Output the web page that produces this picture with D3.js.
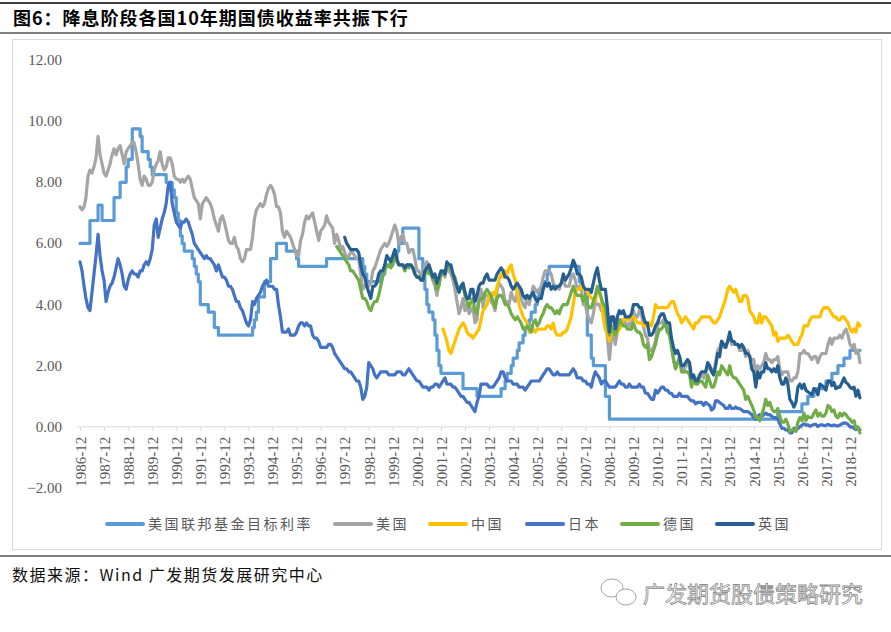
<!DOCTYPE html>
<html>
<head>
<meta charset="utf-8">
<script src="https://cdn.jsdelivr.net/npm/d3@7"></script>
<style>
body { margin: 0; background: #fff; }
svg { display: block; }
</style>
</head>
<body>
<svg id="chart" width="891" height="632"></svg>
<script>

// 月度数据，起始月份 + 逐月数值
var usStart = "1986-12";
var us10y = [7.2,
	7.1, 7.2, 7.5, 8.2, 8.4, 8.3, 8.5, 8.8, 9.5, 8.9, 8.6, 8.3,
	8.2, 8.4, 8.6, 8.9, 9.1, 8.9, 9.1, 9.2, 8.9, 8.6, 9.0, 9.1,
	9.2, 9.3, 9.3, 9.0, 8.6, 8.1, 7.9, 8.2, 8.1, 7.9, 7.9, 8.0,
	8.4, 8.6, 8.7, 9.0, 8.6, 8.4, 8.5, 8.8, 8.8, 8.6, 8.2, 8.1,
	8.1, 8.0, 8.1, 8.0, 8.1, 8.2, 8.1, 7.8, 7.5, 7.4, 7.3, 6.8,
	7.3, 7.4, 7.5, 7.4, 7.3, 7.1, 6.8, 6.6, 6.4, 6.8, 6.9, 6.7,
	6.4, 6.1, 6.0, 6.0, 6.2, 5.9, 5.8, 5.5, 5.4, 5.5, 5.8, 5.8,
	5.8, 6.2, 6.8, 7.1, 7.2, 7.3, 7.2, 7.3, 7.6, 7.8, 7.9, 7.8,
	7.6, 7.2, 7.2, 7.0, 6.4, 6.2, 6.4, 6.3, 6.2, 6.0, 5.8, 5.6,
	5.6, 6.1, 6.3, 6.7, 6.9, 6.8, 6.9, 7.0, 6.7, 6.4, 6.1, 6.4,
	6.5, 6.6, 6.9, 6.7, 6.6, 6.5, 6.0, 6.3, 6.1, 5.8, 5.9, 5.7,
	5.5, 5.6, 5.7, 5.7, 5.6, 5.5, 5.5, 5.0, 4.5, 4.6, 4.7, 4.6,
	4.7, 5.1, 5.2, 5.4, 5.6, 5.8, 5.9, 6.0, 5.9, 6.0, 6.2, 6.4,
	6.6, 6.4, 6.0, 6.2, 6.3, 6.0, 6.0, 5.7, 5.8, 5.8, 5.5, 5.1,
	5.1, 4.9, 4.9, 5.3, 5.4, 5.3, 5.1, 4.8, 4.6, 4.3, 4.7, 5.0,
	5.0, 4.9, 5.3, 5.1, 5.0, 4.8, 4.5, 4.1, 3.7, 3.9, 4.2, 3.8,
	4.0, 3.7, 3.8, 3.9, 3.4, 3.5, 4.4, 4.5, 3.9, 4.3, 4.3, 4.3,
	4.1, 4.0, 3.8, 4.5, 4.7, 4.6, 4.5, 4.1, 4.1, 4.0, 4.4, 4.2,
	4.1, 4.4, 4.5, 4.2, 4.0, 3.9, 4.3, 4.0, 4.3, 4.6, 4.5, 4.4,
	4.5, 4.6, 4.9, 5.1, 5.1, 5.1, 5.0, 4.7, 4.6, 4.6, 4.5, 4.7,
	4.8, 4.6, 4.6, 4.6, 4.9, 5.0, 4.8, 4.5, 4.6, 4.5, 4.0, 4.0,
	3.7, 3.5, 3.4, 3.7, 4.1, 4.0, 4.0, 3.8, 3.8, 4.0, 2.9, 2.2,
	2.9, 3.0, 2.7, 3.1, 3.5, 3.5, 3.5, 3.4, 3.3, 3.4, 3.2, 3.8,
	3.6, 3.6, 3.8, 3.7, 3.3, 3.0, 2.9, 2.5, 2.5, 2.6, 2.8, 3.3,
	3.4, 3.4, 3.5, 3.3, 3.1, 3.2, 2.8, 2.2, 1.9, 2.1, 2.1, 1.9,
	1.8, 2.0, 2.2, 1.9, 1.6, 1.6, 1.5, 1.6, 1.6, 1.7, 1.6, 1.8,
	2.0, 1.9, 1.9, 1.7, 2.1, 2.5, 2.6, 2.8, 2.6, 2.6, 2.8, 3.0,
	2.7, 2.7, 2.7, 2.7, 2.5, 2.5, 2.6, 2.3, 2.5, 2.3, 2.2, 2.2,
	1.7, 2.0, 1.9, 2.0, 2.1, 2.4, 2.2, 2.2, 2.1, 2.2, 2.2, 2.3,
	1.9, 1.7, 1.8, 1.8, 1.8, 1.5, 1.5, 1.6, 1.6, 1.8, 2.4, 2.4,
	2.5, 2.4, 2.4, 2.3, 2.2, 2.3, 2.3, 2.1, 2.3, 2.4, 2.4, 2.4,
	2.7, 2.9, 2.7, 2.9, 2.9, 2.9, 3.0, 2.9, 3.1, 3.2, 3.0, 2.7,
	2.6, 2.7, 2.4, 2.5, 2.1];

var jpStart = "1986-12";
var jp10y = [5.4,
	5.1, 4.6, 4.2, 3.9, 3.8, 4.4, 5.0, 5.6, 6.3, 5.6, 5.1, 4.8,
	4.1, 4.4, 4.6, 4.7, 4.9, 5.2, 5.5, 5.3, 5.0, 4.6, 4.5, 4.8,
	5.0, 5.1, 5.0, 5.0, 4.9, 5.1, 5.1, 5.3, 5.4, 5.3, 5.5, 5.8,
	6.6, 6.8, 6.2, 6.5, 6.8, 7.0, 7.3, 7.9, 8.0, 7.3, 7.0, 6.7,
	6.6, 6.5, 6.7, 6.7, 6.8, 6.7, 6.5, 6.3, 6.0, 5.9, 5.8, 5.7,
	5.6, 5.5, 5.6, 5.5, 5.5, 5.4, 5.3, 5.1, 5.3, 5.1, 4.9, 4.9,
	4.8, 4.6, 4.6, 4.5, 4.3, 4.1, 4.1, 3.9, 3.8, 3.6, 3.4, 3.3,
	3.5, 4.1, 4.0, 4.2, 4.3, 4.4, 4.6, 4.7, 4.8, 4.6, 4.6, 4.6,
	4.5, 4.5, 4.0, 3.6, 3.1, 3.1, 3.1, 3.2, 3.0, 3.0, 3.0, 3.1,
	3.3, 3.4, 3.4, 3.3, 3.4, 3.3, 3.3, 3.0, 2.9, 2.9, 2.8, 2.6,
	2.6, 2.6, 2.6, 2.7, 2.7, 2.6, 2.4, 2.3, 2.2, 2.1, 2.0, 1.9,
	1.9, 1.8, 1.8, 1.7, 1.6, 1.5, 1.5, 1.3, 0.9, 1.0, 1.3, 2.1,
	2.0, 1.9, 1.7, 1.6, 1.7, 1.8, 1.8, 1.8, 1.8, 1.7, 1.7, 1.7,
	1.7, 1.8, 1.8, 1.8, 1.7, 1.7, 1.8, 1.9, 1.8, 1.7, 1.6, 1.5,
	1.5, 1.4, 1.3, 1.3, 1.3, 1.2, 1.3, 1.3, 1.4, 1.4, 1.3, 1.4,
	1.5, 1.6, 1.4, 1.4, 1.4, 1.3, 1.3, 1.2, 1.1, 1.0, 1.0, 0.9,
	0.8, 0.8, 0.7, 0.6, 0.5, 0.8, 1.0, 1.4, 1.4, 1.4, 1.4, 1.3,
	1.3, 1.3, 1.4, 1.5, 1.6, 1.8, 1.8, 1.6, 1.5, 1.5, 1.5, 1.4,
	1.4, 1.4, 1.3, 1.3, 1.3, 1.2, 1.3, 1.4, 1.5, 1.5, 1.5, 1.5,
	1.5, 1.6, 1.7, 1.8, 1.9, 1.9, 1.8, 1.7, 1.7, 1.8, 1.7, 1.7,
	1.7, 1.7, 1.7, 1.7, 1.8, 1.9, 1.8, 1.6, 1.6, 1.6, 1.5, 1.5,
	1.4, 1.4, 1.3, 1.6, 1.8, 1.7, 1.6, 1.4, 1.5, 1.5, 1.4, 1.3,
	1.3, 1.3, 1.3, 1.4, 1.5, 1.4, 1.4, 1.3, 1.3, 1.4, 1.3, 1.3,
	1.3, 1.3, 1.4, 1.3, 1.3, 1.1, 1.1, 1.0, 0.9, 0.9, 1.2, 1.1,
	1.2, 1.3, 1.3, 1.2, 1.2, 1.1, 1.1, 1.0, 1.0, 1.0, 1.1, 1.0,
	1.0, 1.0, 1.0, 0.9, 0.85, 0.85, 0.75, 0.8, 0.8, 0.8, 0.7, 0.8,
	0.75, 0.7, 0.55, 0.6, 0.85, 0.85, 0.8, 0.75, 0.7, 0.6, 0.6, 0.7,
	0.6, 0.6, 0.65, 0.6, 0.6, 0.55, 0.5, 0.5, 0.5, 0.45, 0.4, 0.3,
	0.25, 0.35, 0.4, 0.35, 0.4, 0.45, 0.4, 0.4, 0.35, 0.3, 0.3, 0.25,
	0.1, -0.05, -0.05, -0.1, -0.1, -0.2, -0.2, -0.05, -0.1, -0.05, 0.0, 0.05,
	0.1, 0.05, 0.07, 0.02, 0.05, 0.08, 0.08, 0.01, 0.06, 0.07, 0.04, 0.05,
	0.08, 0.05, 0.04, 0.06, 0.04, 0.03, 0.06, 0.1, 0.13, 0.12, 0.08, 0.0,
	0.0, -0.05, -0.09, -0.05, -0.1];

var deStart = "1997-08";
var de10y = [5.9, 5.8, 5.7, 5.6, 5.5,
	5.4, 5.3, 5.1, 5.1, 5.0, 4.9, 4.8, 4.5, 4.2, 4.2, 4.1, 3.9,
	3.8, 4.0, 4.1, 4.1, 4.3, 4.6, 4.9, 5.1, 5.3, 5.3, 5.2, 5.3,
	5.6, 5.4, 5.3, 5.3, 5.3, 5.1, 5.3, 5.2, 5.3, 5.2, 5.0, 4.9,
	4.9, 4.8, 4.8, 5.0, 5.2, 5.0, 5.0, 4.8, 4.8, 4.5, 4.6, 5.0,
	5.0, 5.0, 5.2, 5.2, 5.2, 5.0, 4.9, 4.6, 4.4, 4.6, 4.6, 4.3,
	4.1, 3.9, 4.1, 4.2, 3.8, 3.7, 4.1, 4.2, 4.2, 4.4, 4.5, 4.4,
	4.3, 4.1, 3.9, 4.2, 4.3, 4.3, 4.2, 4.0, 4.0, 3.9, 3.7, 3.6,
	3.5, 3.6, 3.5, 3.4, 3.2, 3.2, 3.3, 3.2, 3.1, 3.4, 3.5, 3.3,
	3.4, 3.6, 3.7, 3.9, 4.0, 3.9, 3.9, 3.8, 3.7, 3.8, 3.7, 3.9,
	4.0, 4.0, 4.0, 4.2, 4.4, 4.6, 4.4, 4.3, 4.3, 4.3, 4.1, 4.3,
	4.0, 3.9, 3.9, 4.1, 4.3, 4.6, 4.4, 4.2, 4.0, 3.9, 3.3, 3.0,
	3.3, 3.1, 3.0, 3.2, 3.5, 3.4, 3.3, 3.3, 3.2, 3.2, 3.2, 3.4,
	3.2, 3.1, 3.1, 3.0, 2.7, 2.6, 2.7, 2.2, 2.3, 2.5, 2.7, 3.0,
	3.2, 3.2, 3.3, 3.4, 3.1, 3.0, 2.6, 2.2, 1.9, 2.1, 2.3, 1.8,
	1.8, 1.8, 1.8, 1.7, 1.3, 1.6, 1.4, 1.4, 1.5, 1.5, 1.4, 1.3,
	1.7, 1.5, 1.3, 1.3, 1.5, 1.8, 1.7, 2.0, 1.9, 1.8, 1.7, 2.0,
	1.7, 1.6, 1.6, 1.5, 1.4, 1.3, 1.2, 0.9, 1.0, 0.85, 0.7, 0.55,
	0.3, 0.3, 0.2, 0.4, 0.6, 0.9, 0.7, 0.8, 0.6, 0.5, 0.5, 0.6,
	0.35, 0.15, 0.15, 0.25, 0.1, -0.15, -0.1, -0.1, -0.15, 0.15, 0.3, 0.2,
	0.45, 0.2, 0.35, 0.3, 0.3, 0.45, 0.55, 0.35, 0.45, 0.35, 0.35, 0.45,
	0.7, 0.65, 0.5, 0.55, 0.35, 0.3, 0.45, 0.35, 0.45, 0.4, 0.3, 0.25,
	0.15, 0.2, -0.05, 0.0, -0.2];

var ukStart = "1997-12";
var uk10y = [6.2,
	6.0, 5.9, 5.8, 5.8, 5.8, 5.8, 5.7, 5.3, 5.0, 4.9, 4.6, 4.4,
	4.2, 4.6, 4.6, 4.7, 5.0, 5.1, 5.1, 5.3, 5.6, 5.5, 5.4, 5.6,
	5.8, 5.5, 5.3, 5.3, 5.3, 5.2, 5.3, 5.3, 5.3, 5.2, 5.0, 4.9,
	4.9, 4.8, 4.8, 5.1, 5.2, 5.3, 5.1, 4.9, 5.0, 4.7, 4.9, 5.1,
	5.1, 5.0, 5.4, 5.3, 5.3, 5.0, 4.8, 4.6, 4.4, 4.6, 4.7, 4.4,
	4.2, 4.2, 4.5, 4.5, 4.1, 4.3, 4.6, 4.7, 4.7, 4.9, 5.0, 4.8,
	4.8, 4.8, 4.8, 5.0, 5.1, 5.2, 5.1, 4.9, 4.9, 4.8, 4.6, 4.5,
	4.6, 4.7, 4.6, 4.5, 4.3, 4.2, 4.3, 4.2, 4.3, 4.4, 4.2, 4.1,
	4.2, 4.2, 4.5, 4.7, 4.6, 4.7, 4.5, 4.6, 4.5, 4.6, 4.6, 4.7,
	5.0, 4.8, 4.9, 5.0, 5.2, 5.45, 5.3, 5.0, 5.0, 4.9, 4.6, 4.5,
	4.5, 4.5, 4.4, 4.7, 5.0, 5.2, 4.8, 4.5, 4.5, 4.5, 3.9, 3.1,
	3.6, 3.6, 3.2, 3.6, 3.8, 3.7, 3.8, 3.6, 3.6, 3.6, 3.7, 4.0,
	4.0, 4.0, 3.9, 3.9, 3.6, 3.4, 3.4, 3.0, 3.0, 3.1, 3.3, 3.4,
	3.6, 3.7, 3.7, 3.5, 3.4, 3.4, 2.9, 2.6, 2.4, 2.5, 2.3, 2.0,
	2.0, 2.1, 2.2, 2.1, 1.6, 1.7, 1.5, 1.5, 1.7, 1.8, 1.8, 1.8,
	2.1, 2.0, 1.8, 1.7, 2.0, 2.4, 2.3, 2.8, 2.7, 2.6, 2.8, 3.1,
	2.8, 2.8, 2.7, 2.7, 2.6, 2.7, 2.6, 2.4, 2.4, 2.3, 1.9, 1.8,
	1.3, 1.8, 1.6, 1.8, 1.8, 2.1, 1.9, 1.9, 1.8, 1.9, 1.8, 2.0,
	1.6, 1.4, 1.4, 1.6, 1.4, 0.9, 0.8, 0.65, 0.8, 1.3, 1.4, 1.25,
	1.4, 1.2, 1.15, 1.1, 1.05, 1.25, 1.2, 1.05, 1.4, 1.35, 1.3, 1.2,
	1.5, 1.5, 1.35, 1.45, 1.25, 1.3, 1.3, 1.45, 1.6, 1.45, 1.4, 1.3,
	1.25, 1.3, 1.0, 1.2, 0.95];

var cnStart = "2002-01";
var cn10y = [
	3.2, 3.0, 2.8, 2.5, 2.4, 2.6, 2.8, 3.0, 3.2, 3.3, 3.4, 3.3,
	3.1, 3.0, 3.0, 2.9, 3.0, 3.1, 3.2, 3.5, 3.8, 3.9, 4.0, 4.3,
	4.3, 4.4, 4.3, 4.6, 4.8, 5.0, 4.9, 5.1, 5.0, 5.2, 5.3, 5.0,
	4.8, 4.4, 4.0, 3.8, 3.6, 3.5, 3.4, 3.1, 3.2, 3.2, 3.1, 3.2,
	3.2, 3.2, 3.2, 3.2, 3.3, 3.3, 3.2, 3.4, 3.1, 3.0, 3.0, 3.0,
	3.1, 3.1, 3.2, 3.4, 3.6, 4.0, 4.4, 4.5, 4.5, 4.6, 4.5, 4.5,
	4.4, 4.3, 4.2, 4.2, 4.1, 4.5, 4.5, 4.2, 3.5, 3.2, 3.0, 2.8,
	3.1, 3.1, 3.0, 3.1, 3.2, 3.3, 3.5, 3.6, 3.5, 3.5, 3.6, 3.6,
	3.5, 3.4, 3.4, 3.4, 3.3, 3.3, 3.3, 3.4, 3.3, 3.6, 4.0, 3.9,
	3.9, 3.9, 3.9, 3.9, 3.9, 4.0, 4.1, 4.1, 3.9, 3.7, 3.6, 3.4,
	3.5, 3.6, 3.5, 3.4, 3.3, 3.2, 3.4, 3.4, 3.5, 3.6, 3.6, 3.6,
	3.6, 3.6, 3.5, 3.4, 3.4, 3.5, 3.6, 3.8, 4.0, 4.2, 4.5, 4.6,
	4.5, 4.4, 4.5, 4.3, 4.1, 4.1, 4.3, 4.3, 4.2, 3.8, 3.7, 3.6,
	3.4, 3.4, 3.7, 3.4, 3.6, 3.6, 3.5, 3.4, 3.3, 3.0, 3.1, 2.8,
	2.9, 2.9, 2.9, 2.9, 3.0, 2.9, 2.8, 2.7, 2.7, 2.7, 2.9, 3.0,
	3.3, 3.3, 3.3, 3.5, 3.6, 3.6, 3.6, 3.6, 3.6, 3.8, 3.9, 3.9,
	3.9, 3.8, 3.7, 3.6, 3.6, 3.5, 3.5, 3.6, 3.6, 3.5, 3.4, 3.2,
	3.1, 3.2, 3.1, 3.4, 3.3];

// 联邦基金目标利率：调整月份与调整后利率
var fedMonths = ["1986-12", "1987-05", "1987-09", "1987-11", "1988-05", "1988-08", "1988-11", "1988-12",
	"1989-02", "1989-06", "1989-07", "1989-10", "1989-11", "1989-12", "1990-07", "1990-10", "1990-11",
	"1990-12", "1991-01", "1991-02", "1991-03", "1991-04", "1991-08", "1991-09", "1991-10", "1991-11",
	"1991-12", "1992-04", "1992-07", "1992-09", "1994-02", "1994-03", "1994-04", "1994-05", "1994-08",
	"1994-11", "1995-02", "1995-07", "1995-12", "1996-01", "1997-03", "1998-09", "1998-10", "1998-11",
	"1999-06", "1999-08", "1999-11", "2000-02", "2000-03", "2000-05", "2001-01", "2001-03", "2001-04",
	"2001-05", "2001-06", "2001-08", "2001-09", "2001-10", "2001-11", "2001-12", "2002-11", "2003-06",
	"2004-06", "2004-08", "2004-09", "2004-11", "2004-12", "2005-02", "2005-03", "2005-05", "2005-06",
	"2005-08", "2005-09", "2005-11", "2005-12", "2006-01", "2006-03", "2006-05", "2006-06", "2007-09",
	"2007-10", "2007-12", "2008-01", "2008-03", "2008-04", "2008-10", "2008-12", "2015-12", "2016-12",
	"2017-03", "2017-06", "2017-12", "2018-03", "2018-06", "2018-09", "2018-12", "2019-05"];
var fedRates = [6.0, 6.75, 7.25, 6.75, 7.5, 8.0, 8.5, 8.75,
	9.75, 9.5, 9.0, 8.75, 8.5, 8.25, 8.0, 7.75, 7.5,
	7.0, 6.75, 6.25, 6.0, 5.75, 5.5, 5.25, 5.0, 4.75,
	4.0, 3.75, 3.25, 3.0, 3.25, 3.5, 3.75, 4.25, 4.75,
	5.5, 6.0, 5.75, 5.5, 5.25, 5.5, 5.25, 5.0, 4.75,
	5.0, 5.25, 5.5, 5.75, 6.0, 6.5, 5.5, 5.0, 4.5,
	4.0, 3.75, 3.5, 3.0, 2.5, 2.0, 1.75, 1.25, 1.0,
	1.25, 1.5, 1.75, 2.0, 2.25, 2.5, 2.75, 3.0, 3.25,
	3.5, 3.75, 4.0, 4.25, 4.5, 4.75, 5.0, 5.25, 4.75,
	4.5, 4.25, 3.0, 2.25, 2.0, 1.0, 0.25, 0.5, 0.75,
	1.0, 1.25, 1.5, 1.75, 2.0, 2.25, 2.5, 2.5];

var yTicks = [-2, 0, 2, 4, 6, 8, 10, 12];
var seriesNames = ["美国联邦基金目标利率", "美国", "中国", "日本", "德国", "英国"];
var seriesColors = ["#5B9BD5", "#A5A5A5", "#FFC000", "#4472C4", "#70AD47", "#255E91"];


var parseMonth = d3.timeParse("%Y-%m");

function monthly(start, values)
{
	var t0 = parseMonth(start);
	return values.map(function(v, i)
	{
		return { date: d3.timeMonth.offset(t0, i), value: v };
	});
}

function drawChart()
{
	var svg = d3.select("#chart");

	// 标题与上下分隔线
	svg.append("line").attr("x1", 0).attr("x2", 891).attr("y1", 3).attr("y2", 3)
		.attr("stroke", "#000").attr("stroke-width", 1.5);
	svg.append("text").attr("x", 13).attr("y", 25)
		.attr("font-family", "'Noto Sans CJK SC', sans-serif")
		.attr("font-weight", "bold").attr("font-size", 18)
		.attr("letter-spacing", 1)
		.text("图6：降息阶段各国10年期国债收益率共振下行");
	svg.append("line").attr("x1", 0).attr("x2", 891).attr("y1", 33).attr("y2", 33)
		.attr("stroke", "#000").attr("stroke-width", 1.2);

	// 图表外框
	svg.append("rect").attr("x", 12.5).attr("y", 39.5).attr("width", 869).attr("height", 510)
		.attr("fill", "#fff").attr("stroke", "#D9D9D9");

	var x = d3.scaleTime()
		.domain([parseMonth("1986-12"), parseMonth("2018-12")])
		.range([80, 850]);
	var y = d3.scaleLinear().domain([-2, 12]).range([488, 60]);

	// Y 轴标签
	svg.append("g").selectAll("text")
		.data(yTicks)
		.enter()
		.append("text")
		.attr("x", 62)
		.attr("y", function(d) { return y(d) + 5; })
		.attr("text-anchor", "end")
		.attr("font-family", "'Liberation Serif', serif")
		.attr("font-size", 15)
		.attr("fill", "#595959")
		.text(function(d) { return d3.format(".2f")(d); });

	// X 轴（位于 0 处）
	var xTicks = d3.range(1986, 2019).map(function(yr) { return parseMonth(yr + "-12"); });
	var xAxis = d3.axisBottom(x)
		.tickValues(xTicks)
		.tickSize(4)
		.tickFormat(d3.timeFormat("%Y-%m"));
	var gx = svg.append("g")
		.attr("transform", "translate(0," + y(0) + ")")
		.call(xAxis);
	gx.select(".domain").attr("stroke", "#D9D9D9").attr("d", "M77,0H862");
	gx.selectAll(".tick line").attr("stroke", "#D9D9D9");
	gx.selectAll(".tick text")
		.attr("transform", "rotate(-90)")
		.attr("text-anchor", "end")
		.attr("x", -10)
		.attr("y", 0)
		.attr("dy", "0.35em")
		.attr("font-family", "'Liberation Serif', serif")
		.attr("font-size", 15)
		.attr("fill", "#595959");

	var line = d3.line()
		.x(function(d) { return x(d.date); })
		.y(function(d) { return y(d.value); });
	var stepLine = d3.line()
		.curve(d3.curveStepAfter)
		.x(function(d) { return x(d.date); })
		.y(function(d) { return y(d.value); });

	var fed = fedMonths.map(function(m, i) { return { date: parseMonth(m), value: fedRates[i] }; });
	var data = [
		{ path: stepLine, values: fed },
		{ path: line, values: monthly(usStart, us10y) },
		{ path: line, values: monthly(cnStart, cn10y) },
		{ path: line, values: monthly(jpStart, jp10y) },
		{ path: line, values: monthly(deStart, de10y) },
		{ path: line, values: monthly(ukStart, uk10y) }
	];

	svg.append("g").selectAll("path")
		.data(data)
		.enter()
		.append("path")
		.attr("d", function(d) { return d.path(d.values); })
		.attr("fill", "none")
		.attr("stroke", function(d, i) { return seriesColors[i]; })
		.attr("stroke-width", 3.2)
		.attr("stroke-linejoin", "round")
		.attr("stroke-linecap", "round");

	// 图例
	var legendX = [107, 335, 430, 527, 622, 717];
	var legend = svg.append("g").selectAll("g")
		.data(seriesNames)
		.enter()
		.append("g")
		.attr("transform", function(d, i) { return "translate(" + legendX[i] + ",524)"; });
	legend.append("line")
		.attr("x1", 0).attr("x2", 36)
		.attr("stroke", function(d, i) { return seriesColors[i]; })
		.attr("stroke-width", 4)
		.attr("stroke-linecap", "round");
	legend.append("text")
		.attr("x", 41)
		.attr("y", 5)
		.attr("font-family", "'Noto Sans CJK SC', sans-serif")
		.attr("font-size", 14)
		.attr("letter-spacing", 2.5)
		.attr("fill", "#595959")
		.text(function(d) { return d; });

	// 底部分隔线与来源
	svg.append("line").attr("x1", 0).attr("x2", 891).attr("y1", 556).attr("y2", 556)
		.attr("stroke", "#000").attr("stroke-width", 1.2);
	svg.append("text").attr("x", 12).attr("y", 581)
		.attr("font-family", "'Noto Sans CJK SC', sans-serif")
		.attr("font-size", 16)
		.attr("letter-spacing", 1.5)
		.attr("fill", "#111")
		.text("数据来源：Wind  广发期货发展研究中心");

	// 水印
	var wm = svg.append("g").attr("fill", "#fff").attr("stroke", "#999").attr("stroke-width", 0.9);
	wm.append("ellipse").attr("cx", 612).attr("cy", 588).attr("rx", 11).attr("ry", 9);
	wm.append("ellipse").attr("cx", 626).attr("cy", 597).attr("rx", 10).attr("ry", 8);
	svg.append("text").attr("x", 643).attr("y", 602)
		.attr("font-family", "'Noto Sans CJK SC', sans-serif")
		.attr("font-size", 22)
		.attr("fill", "#fff")
		.attr("stroke", "#8c8c8c")
		.attr("stroke-width", 0.8)
		.text("广发期货股债策略研究");
}

drawChart();
</script>
</body>
</html>
